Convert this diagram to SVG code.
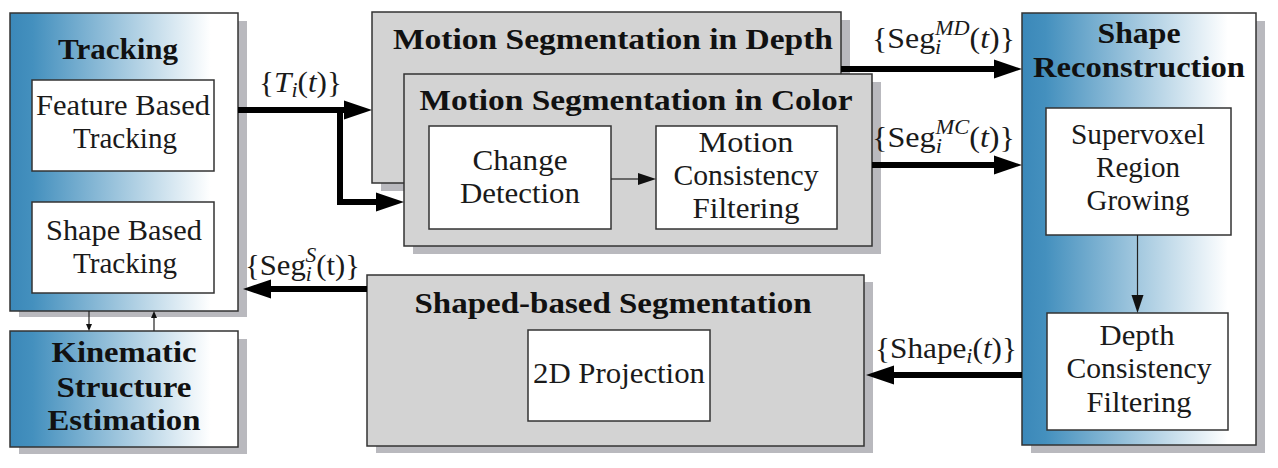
<svg xmlns="http://www.w3.org/2000/svg" width="1278" height="468" viewBox="0 0 1278 468">
<defs>
<linearGradient id="bg" x1="0" y1="0" x2="1" y2="0">
<stop offset="0" stop-color="#3b88b9"/>
<stop offset="0.1" stop-color="#4490be"/>
<stop offset="0.88" stop-color="#ffffff"/>
<stop offset="1" stop-color="#ffffff"/>
</linearGradient>
<marker id="ah" markerUnits="userSpaceOnUse" markerWidth="30" markerHeight="22" refX="0" refY="0" orient="auto" overflow="visible"><path d="M-2,-9.5 L26,0 L-2,9.5 Z" fill="#000"/></marker>
<marker id="am" markerUnits="userSpaceOnUse" markerWidth="20" markerHeight="14" refX="0" refY="0" orient="auto" overflow="visible"><path d="M-1,-6 L17,0 L-1,6 Z" fill="#111"/></marker>
<marker id="at" markerUnits="userSpaceOnUse" markerWidth="8" markerHeight="8" refX="0" refY="0" orient="auto" overflow="visible"><path d="M-1,-3 L6,0 L-1,3 Z" fill="#111"/></marker>
</defs>
<style>
.sh{fill:#b9b9be}
.gray{fill:#d3d3d3;stroke:#333;stroke-width:1.5}
.blue{fill:url(#bg);stroke:#333;stroke-width:1.5}
.white{fill:#fff;stroke:#333;stroke-width:1.5}
text{font-family:"Liberation Serif","Times New Roman",serif}
.t{font-size:30px;fill:#1a1a1a;text-anchor:middle}
.h{font-size:30px;font-weight:bold;fill:#111;text-anchor:middle}
.m{font-size:30px;fill:#1a1a1a}
.s{font-size:21px;font-style:italic}
.i{font-style:italic}
.thick{stroke:#000;stroke-width:6;fill:none;marker-end:url(#ah)}
.thin{stroke:#222;stroke-width:1.2;fill:none}
</style>
<rect width="1278" height="468" fill="#fff"/>

<g id="tracking">
<rect class="sh" x="19" y="21" width="228" height="296"/>
<rect class="blue" x="10" y="13" width="228" height="298"/>
<text class="h" x="118" y="59" textLength="120" lengthAdjust="spacingAndGlyphs">Tracking</text>
</g>
<g id="feature-tracking">
<rect class="white" x="32" y="80" width="182" height="91"/>
<text class="t" x="123" y="115" textLength="174" lengthAdjust="spacingAndGlyphs">Feature Based</text>
<text class="t" x="125" y="148" textLength="104" lengthAdjust="spacingAndGlyphs">Tracking</text>
</g>
<g id="shape-tracking">
<rect class="white" x="32" y="202" width="182" height="91"/>
<text class="t" x="124" y="240" textLength="156" lengthAdjust="spacingAndGlyphs">Shape Based</text>
<text class="t" x="125" y="273" textLength="104" lengthAdjust="spacingAndGlyphs">Tracking</text>
</g>
<g id="kinematic">
<rect class="sh" x="19" y="339" width="228" height="115"/>
<rect class="blue" x="10" y="331" width="228" height="116"/>
<text class="h" x="124" y="362" textLength="145" lengthAdjust="spacingAndGlyphs">Kinematic</text>
<text class="h" x="124" y="397" textLength="135" lengthAdjust="spacingAndGlyphs">Structure</text>
<text class="h" x="124" y="430" textLength="153" lengthAdjust="spacingAndGlyphs">Estimation</text>
</g>

<g id="msd">
<rect class="sh" x="381" y="20" width="469" height="171"/>
<rect class="gray" x="372" y="12" width="469" height="171"/>
<text class="h" x="613" y="49" textLength="440" lengthAdjust="spacingAndGlyphs">Motion Segmentation in Depth</text>
</g>
<g id="msc">
<rect class="sh" x="413" y="82" width="468" height="172"/>
<rect class="gray" x="404" y="74" width="468" height="172"/>
<text class="h" x="636" y="110" textLength="433" lengthAdjust="spacingAndGlyphs">Motion Segmentation in Color</text>
</g>
<g id="change">
<rect class="white" x="429" y="126" width="182" height="103"/>
<text class="t" x="520" y="170" textLength="95" lengthAdjust="spacingAndGlyphs">Change</text>
<text class="t" x="520" y="203" textLength="120" lengthAdjust="spacingAndGlyphs">Detection</text>
</g>
<g id="mcf">
<rect class="white" x="656" y="126" width="181" height="103"/>
<text class="t" x="746" y="152" textLength="95" lengthAdjust="spacingAndGlyphs">Motion</text>
<text class="t" x="746" y="185" textLength="145" lengthAdjust="spacingAndGlyphs">Consistency</text>
<text class="t" x="746" y="218" textLength="107" lengthAdjust="spacingAndGlyphs">Filtering</text>
</g>

<g id="shape-recon">
<rect class="sh" x="1031" y="21" width="234" height="432"/>
<rect class="blue" x="1022" y="13" width="234" height="432"/>
<text class="h" x="1139" y="43" textLength="83" lengthAdjust="spacingAndGlyphs">Shape</text>
<text class="h" x="1139" y="77" textLength="212" lengthAdjust="spacingAndGlyphs">Reconstruction</text>
</g>
<g id="supervoxel">
<rect class="white" x="1046" y="108" width="185" height="127"/>
<text class="t" x="1138" y="144" textLength="134" lengthAdjust="spacingAndGlyphs">Supervoxel</text>
<text class="t" x="1138" y="177" textLength="84" lengthAdjust="spacingAndGlyphs">Region</text>
<text class="t" x="1138" y="210" textLength="103" lengthAdjust="spacingAndGlyphs">Growing</text>
</g>
<g id="depth">
<rect class="white" x="1047" y="313" width="181" height="117"/>
<text class="t" x="1137" y="345" textLength="75" lengthAdjust="spacingAndGlyphs">Depth</text>
<text class="t" x="1139" y="378" textLength="145" lengthAdjust="spacingAndGlyphs">Consistency</text>
<text class="t" x="1139" y="412" textLength="105" lengthAdjust="spacingAndGlyphs">Filtering</text>
</g>

<g id="shape-seg">
<rect class="sh" x="376" y="282" width="497" height="171"/>
<rect class="gray" x="367" y="275" width="497" height="171"/>
<text class="h" x="613" y="313" textLength="397" lengthAdjust="spacingAndGlyphs">Shaped-based Segmentation</text>
</g>
<g id="projection">
<rect class="white" x="528" y="330" width="182" height="91"/>
<text class="t" x="619" y="383" textLength="172" lengthAdjust="spacingAndGlyphs">2D Projection</text>
</g>

<g id="connectors">
<path class="thick" d="M238,110 H346"/>
<path class="thick" d="M340,110 V202 H378"/>
<path class="thick" d="M841,69 H996"/>
<path class="thick" d="M872,165 H996"/>
<path class="thick" d="M1022,375 H892"/>
<path class="thick" d="M367,289 H269"/>
<path class="thin" d="M611,179 H639" marker-end="url(#am)"/>
<path class="thin" d="M1137.5,235 V296" marker-end="url(#am)"/>
<path class="thin" d="M89,311 V325" marker-end="url(#at)"/>
<path class="thin" d="M154,331 V317" marker-end="url(#at)"/>
<text class="m" x="259" y="92" textLength="83" lengthAdjust="spacingAndGlyphs">{<tspan class="i">T</tspan><tspan class="s" dy="5">i</tspan><tspan dy="-5">(</tspan><tspan class="i">t</tspan>)}</text>
<text class="m" x="872" y="48" textLength="143" lengthAdjust="spacingAndGlyphs">{Seg<tspan class="s" dy="6">i</tspan><tspan class="s" dx="-6" dy="-19">MD</tspan><tspan dy="13">(</tspan><tspan class="i">t</tspan>)}</text>
<text class="m" x="872" y="147" textLength="143" lengthAdjust="spacingAndGlyphs">{Seg<tspan class="s" dy="6">i</tspan><tspan class="s" dx="-6" dy="-19">MC</tspan><tspan dy="13">(</tspan><tspan class="i">t</tspan>)}</text>
<text class="m" x="245" y="275" textLength="115" lengthAdjust="spacingAndGlyphs">{Seg<tspan class="s" dy="6">i</tspan><tspan class="s" dx="-6" dy="-19">S</tspan><tspan dy="13">(t)}</tspan></text>
<text class="m" x="875" y="358" textLength="142" lengthAdjust="spacingAndGlyphs">{Shape<tspan class="s" dy="5">i</tspan><tspan dy="-5">(</tspan><tspan class="i">t</tspan>)}</text>
</g>
</svg>
